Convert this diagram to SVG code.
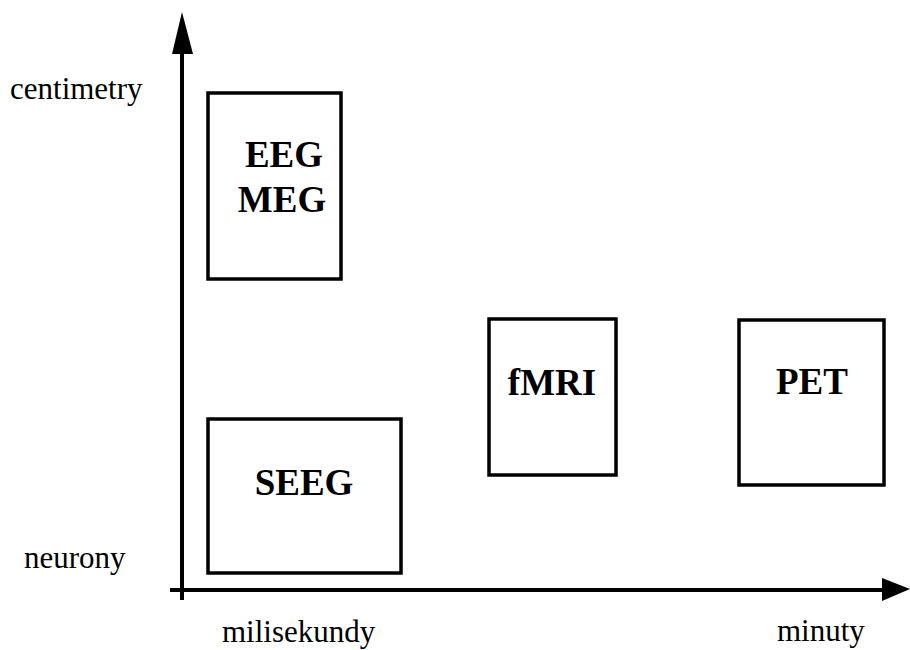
<svg xmlns="http://www.w3.org/2000/svg" width="910" height="650" viewBox="0 0 910 650">
<style>
.box{fill:#fff;stroke:#000;stroke-width:3.5}
.lbl{font-family:"Liberation Serif","Times New Roman",serif;font-weight:bold;font-size:37px;fill:#000;text-anchor:middle}
.ax{font-family:"Liberation Serif","Times New Roman",serif;font-size:31px;fill:#000}
.axis{stroke:#000;stroke-width:4;fill:none}
</style>
<rect width="910" height="650" fill="#fff"/>
<g id="connectors">
<line class="axis" x1="182" y1="600" x2="182" y2="50"/>
<polygon points="182,12 172,54 193,54" fill="#000"/>
<line class="axis" x1="170" y1="590" x2="885" y2="590"/>
<polygon points="910,589 882,578 882,601" fill="#000"/>
</g>
<g id="eeg-meg">
<rect class="box" x="208" y="93" width="133" height="186"/>
<text class="lbl" x="284" y="167">EEG</text>
<text class="lbl" x="282" y="212">MEG</text>
</g>
<g id="seeg">
<rect class="box" x="208" y="419" width="193" height="154"/>
<text class="lbl" x="304" y="495">SEEG</text>
</g>
<g id="fmri">
<rect class="box" x="489" y="319" width="127" height="156"/>
<text class="lbl" x="552" y="395">fMRI</text>
</g>
<g id="pet">
<rect class="box" x="739" y="320" width="145" height="165"/>
<text class="lbl" x="812" y="394">PET</text>
</g>
<g id="axis-labels">
<text class="ax" x="10" y="99">centimetry</text>
<text class="ax" x="24" y="568">neurony</text>
<text class="ax" x="222" y="642">milisekundy</text>
<text class="ax" x="777" y="641">minuty</text>
</g>
</svg>
